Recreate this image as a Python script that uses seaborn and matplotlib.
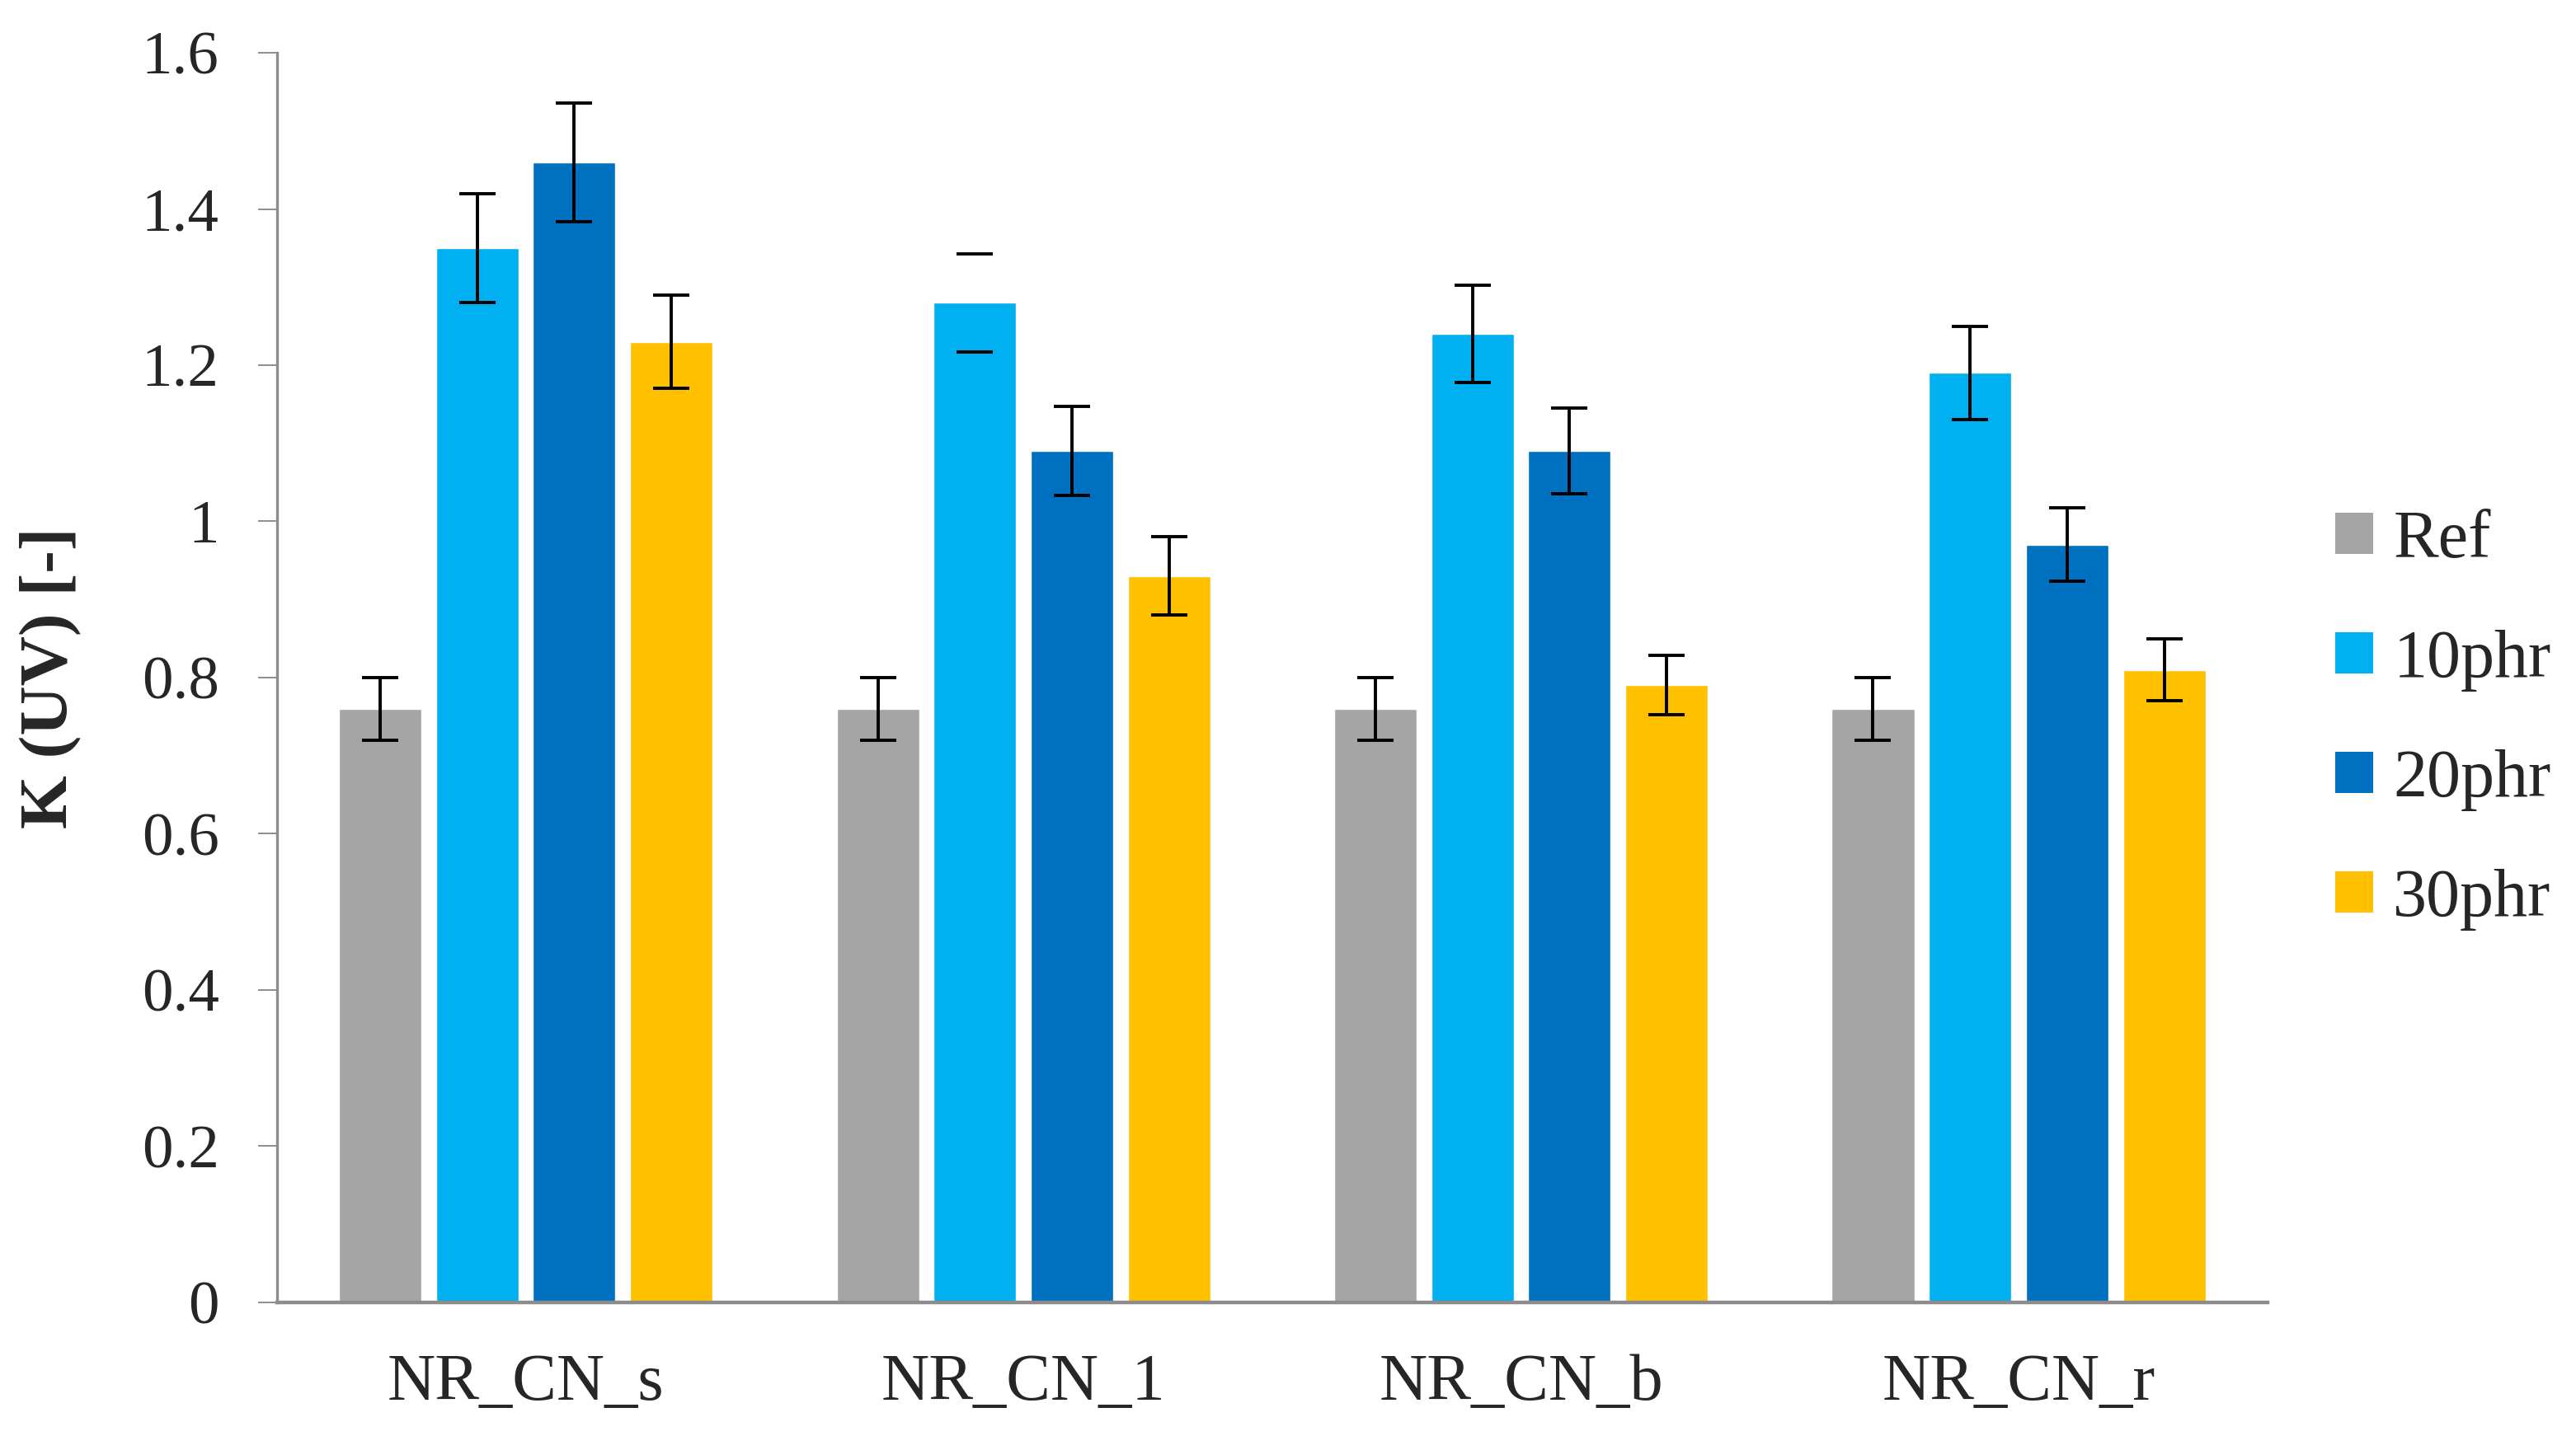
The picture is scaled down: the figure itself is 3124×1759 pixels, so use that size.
import pandas as pd
import numpy as np
import seaborn as sns
import matplotlib.pyplot as plt
from matplotlib.patches import Patch

# Data
samples = ['NR_CN_s', 'NR_CN_1', 'NR_CN_b', 'NR_CN_r']
levels = ['Ref', '10phr', '20phr', '30phr']
k_ref = [0.76, 0.76, 0.76, 0.76]
k_10 = [1.35, 1.28, 1.24, 1.19]
k_20 = [1.46, 1.09, 1.09, 0.97]
k_30 = [1.23, 0.93, 0.79, 0.81]
err_ref = [0.04, 0.04, 0.04, 0.04]
err_10 = [0.07, 0.063, 0.062, 0.06]
err_20 = [0.076, 0.057, 0.055, 0.047]
err_30 = [0.06, 0.05, 0.038, 0.04]
# the NR_CN_1 / 10phr error bar only shows its caps in the original
stem_10 = [True, False, True, True]

colors = ['#A5A5A5', '#00B0F0', '#0070C0', '#FFC000']

values = [k_ref, k_10, k_20, k_30]
errors = [err_ref, err_10, err_20, err_30]
stems = [[True] * 4, stem_10, [True] * 4, [True] * 4]

df = pd.DataFrame({
    'sample': np.tile(samples, len(levels)),
    'level': np.repeat(levels, len(samples)),
    'K': np.concatenate(values),
})

sns.set_style('white')
plt.rcParams['font.family'] = ['Liberation Serif', 'DejaVu Serif']

fig = plt.figure(figsize=(31.24, 17.59), dpi=100)
ax = fig.add_axes([0.1075, 0.1018, 0.7727, 0.8618])

sns.barplot(data=df, x='sample', y='K', hue='level', order=samples, hue_order=levels,
            palette=colors, saturation=1, width=0.78, gap=0.15, errorbar=None,
            legend=False, ax=ax)

# error bars placed on the bar centres seaborn produced
bar_groups = list(ax.containers)
for i, cont in enumerate(bar_groups):
    for j, bar in enumerate(cont.patches):
        xc = bar.get_x() + bar.get_width() / 2
        ax.errorbar(xc, bar.get_height(), yerr=errors[i][j], fmt='none', ecolor='black',
                    elinewidth=2.8 if stems[i][j] else 0, capsize=16, capthick=2.8, zorder=5)

ax.set_ylim(0, 1.6)
ax.set_xlim(-0.5, 3.5)
ax.set_yticks(np.arange(0, 1.61, 0.2))
ax.set_yticklabels(['0', '0.2', '0.4', '0.6', '0.8', '1', '1.2', '1.4', '1.6'])
ax.set_xlabel('')
ax.set_ylabel('K (UV) [-]', fontsize=60, fontweight='bold')
ax.yaxis.set_label_coords(-0.098, 0.5)

for s in ['top', 'right']:
    ax.spines[s].set_visible(False)
ax.spines['left'].set_color('#8C8C8C')
ax.spines['left'].set_linewidth(2.4)
ax.spines['bottom'].set_color('#8C8C8C')
ax.spines['bottom'].set_linewidth(3.2)

ax.tick_params(axis='y', which='major', left=True, length=16.5, width=1.4, color='#8C8C8C',
               pad=34, labelsize=54)
ax.tick_params(axis='x', bottom=False, length=0, pad=45, labelsize=58)

handles = [Patch(facecolor=c, edgecolor='none') for c in colors]
ax.legend(handles, levels, loc='center left', bbox_to_anchor=(1.034, 0.466), frameon=False,
          fontsize=59, handlelength=0.56, handleheight=0.56, handletextpad=0.3,
          labelspacing=0.85, borderpad=0, borderaxespad=0)

fig.savefig('out.png', dpi=100)
